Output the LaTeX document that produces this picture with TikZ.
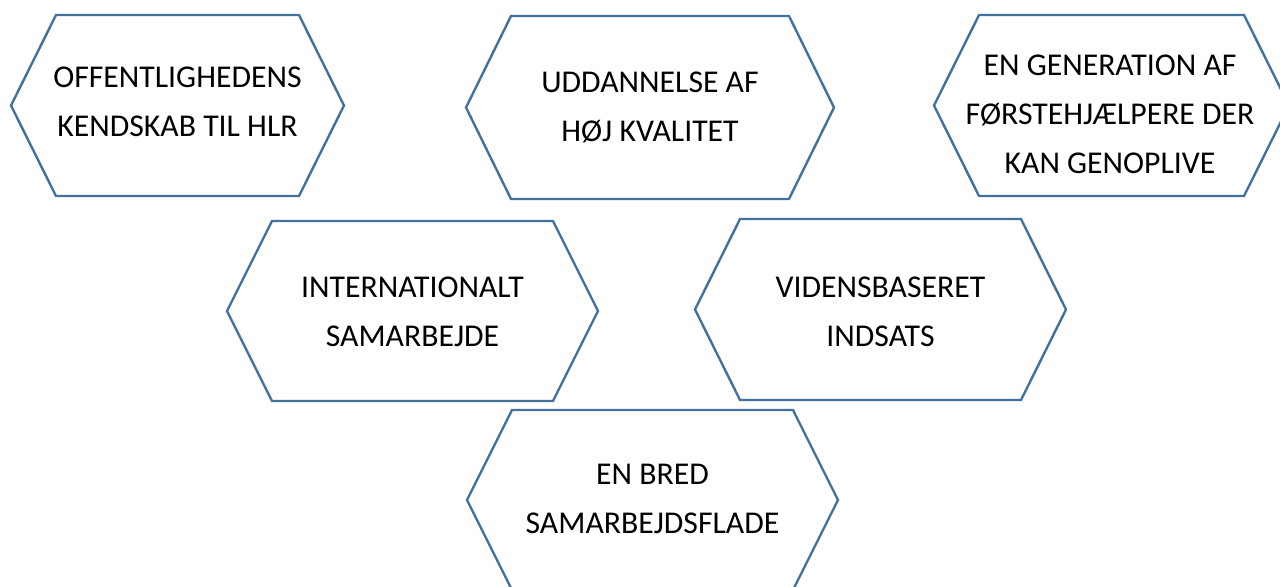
\documentclass[tikz,border=0pt]{standalone}
\usepackage{fontspec}
\setmainfont{Carlito}
\definecolor{hexblue}{HTML}{41719C}
\tikzset{
  hexline/.style={draw=hexblue, line width=1.8pt, line join=miter},
  hexlabel/.style={align=center, font=\fontsize{23.8}{36.75}\selectfont}
}

\begin{document}
\begin{tikzpicture}[x=0.75pt,y=-0.75pt]
\def\inset{45};
%\draw[help lines,step=100] (0,0) grid (1280,586);
\useasboundingbox (0,0) rectangle (1280,586);
\clip (0,0) rectangle (1280,586);

\foreach \l/\r/\t/\b/\tx/\ty/\name/\txt in {
  11/344/15/196/177.5/102/kendskab/{OFFENTLIGHEDENS\\KENDSKAB TIL HLR},
  466/834/16/199/650/107/uddannelse/{UDDANNELSE AF\\HØJ KVALITET},
  934/1289/15/196/1110/114/generation/{EN GENERATION AF\\FØRSTEHJÆLPERE DER\\KAN GENOPLIVE},
  227/598/221/401/412.5/311.5/international/{INTERNATIONALT\\SAMARBEJDE},
  695/1066/219/400/880.5/311.5/videns/{VIDENSBASERET\\INDSATS},
  467/838/410/590/652.5/498.5/samarbejde/{EN BRED\\SAMARBEJDSFLADE}}{
\draw [hexline] (\l,{(\t+\b)/2}) -- (\l+\inset,\t) -- (\r-\inset,\t) -- (\r,{(\t+\b)/2})
  -- (\r-\inset,\b) -- (\l+\inset,\b) -- cycle;
\node [hexlabel] (\name) at (\tx,\ty) {\txt};
}

\end{tikzpicture}
\end{document}
